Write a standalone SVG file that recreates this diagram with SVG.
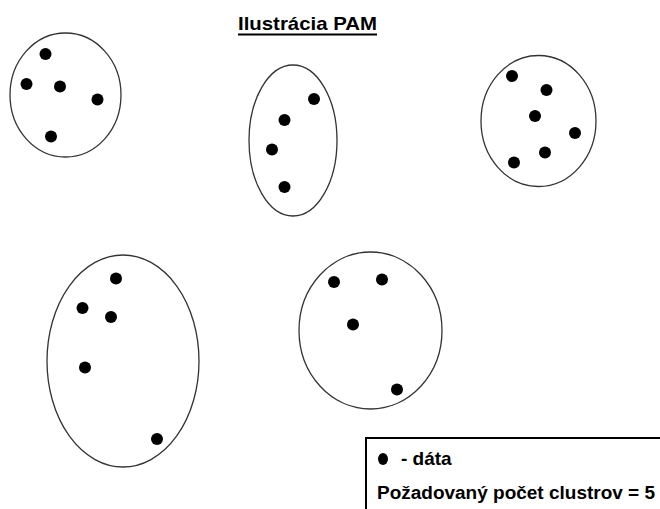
<svg xmlns="http://www.w3.org/2000/svg" width="660" height="509" viewBox="0 0 660 509">
<style>
.cl{fill:none;stroke:#333;stroke-width:1.3}
.d{fill:#000}
.t{font-family:"Liberation Sans",Arial,sans-serif;font-weight:bold;fill:#000}
</style>
<rect width="660" height="509" fill="#fff"/>
<g id="title">
<text class="t" x="238" y="30" font-size="19" textLength="139" lengthAdjust="spacingAndGlyphs">Ilustrácia PAM</text>
<line x1="238" y1="34.5" x2="377" y2="34.5" stroke="#000" stroke-width="2"/>
</g>
<g id="cluster1">
<ellipse class="cl" cx="65.5" cy="95" rx="55.5" ry="62"/>
<circle class="d" cx="45.5" cy="54" r="6"/>
<circle class="d" cx="26.5" cy="84" r="6"/>
<circle class="d" cx="60" cy="86.5" r="6"/>
<circle class="d" cx="97.5" cy="99.5" r="6"/>
<circle class="d" cx="51" cy="136.5" r="6"/>
</g>
<g id="cluster2">
<ellipse class="cl" cx="293" cy="140.5" rx="44" ry="75.5"/>
<circle class="d" cx="314" cy="99" r="6"/>
<circle class="d" cx="284.5" cy="120" r="6"/>
<circle class="d" cx="272" cy="149.5" r="6"/>
<circle class="d" cx="284.5" cy="187" r="6"/>
</g>
<g id="cluster3">
<ellipse class="cl" cx="538.5" cy="121" rx="57.5" ry="65.5"/>
<circle class="d" cx="512" cy="76" r="6"/>
<circle class="d" cx="546.5" cy="90" r="6"/>
<circle class="d" cx="535" cy="116" r="6"/>
<circle class="d" cx="575" cy="133" r="6"/>
<circle class="d" cx="545" cy="152.5" r="6"/>
<circle class="d" cx="514" cy="162.5" r="6"/>
</g>
<g id="cluster4">
<ellipse class="cl" cx="123" cy="361" rx="76" ry="106"/>
<circle class="d" cx="116" cy="278.5" r="6"/>
<circle class="d" cx="82.5" cy="308" r="6"/>
<circle class="d" cx="111" cy="317" r="6"/>
<circle class="d" cx="85" cy="367.5" r="6"/>
<circle class="d" cx="157" cy="439" r="6"/>
</g>
<g id="cluster5">
<ellipse class="cl" cx="370.5" cy="330.5" rx="71.5" ry="78.5"/>
<circle class="d" cx="334" cy="282" r="6"/>
<circle class="d" cx="382" cy="279.5" r="6"/>
<circle class="d" cx="353" cy="324.5" r="6"/>
<circle class="d" cx="397" cy="389.5" r="6"/>
</g>
<g id="legend">
<rect x="366" y="438" width="310" height="100" fill="#fff" stroke="#000" stroke-width="2"/>
<ellipse class="d" cx="383" cy="459" rx="5" ry="6"/>
<text class="t" x="401" y="465" font-size="19">- dáta</text>
<text class="t" x="377" y="499" font-size="18" textLength="278" lengthAdjust="spacingAndGlyphs">Požadovaný počet clustrov = 5</text>
</g>
<g id="connectors"/>
</svg>
